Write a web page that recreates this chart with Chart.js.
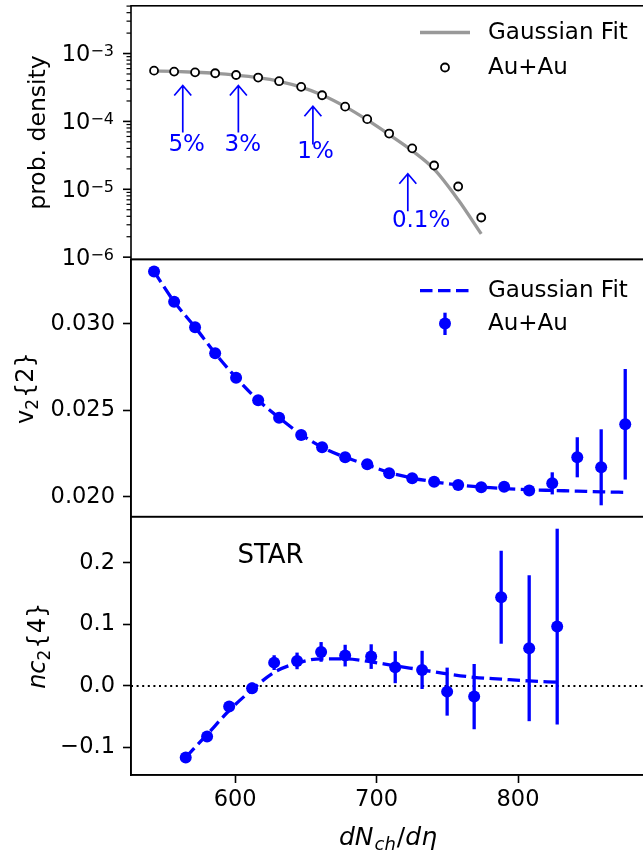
<!DOCTYPE html>
<html>
<head>
<meta charset="utf-8">
<script src="https://cdn.jsdelivr.net/npm/chart.js@4.4.1/dist/chart.umd.min.js"></script>
<style>
  body { margin: 0; background: #fff; width: 643px; height: 851px; overflow: hidden; position: relative; }
  canvas { position: absolute; left: 0; top: 0; }
</style>
</head>
<body>
<canvas id="c1" width="660" height="851"></canvas>
<canvas id="c2" width="660" height="851"></canvas>
<canvas id="c3" width="660" height="851"></canvas>
<script>
// dN/deta bins for the top two panels
const mult = [542.7, 556.9, 571.7, 585.9, 600.7, 616.3, 631.1, 646.7, 661.5, 677.8, 693.4,
              708.9, 725.2, 740.7, 757.7, 774.0, 790.2, 807.9, 824.2, 841.9, 858.8, 875.8];

// top panel: probability density (first 16 bins)
const probDensity = [5.6e-4, 5.42e-4, 5.28e-4, 5.12e-4, 4.83e-4, 4.43e-4, 3.91e-4, 3.23e-4,
                     2.43e-4, 1.65e-4, 1.08e-4, 6.62e-5, 4.01e-5, 2.24e-5, 1.10e-5, 3.84e-6];
const probFit = [5.55e-4, 5.45e-4, 5.3e-4, 5.1e-4, 4.8e-4, 4.4e-4, 3.9e-4, 3.2e-4,
                 2.45e-4, 1.65e-4, 1.05e-4, 6.4e-5, 3.7e-5, 1.98e-5, 7.0e-6, 2.2e-6];

// centrality arrows
const pctLabels = ['5%', '3%', '1%', '0.1%'];
const pctArrowX = [563.0, 602.3, 655.0, 722.1];
const pctArrowTail = [6.86e-5, 6.86e-5, 4.58e-5, 4.73e-6];
const pctArrowHead = [3.38e-4, 3.38e-4, 1.67e-4, 1.69e-5];
const pctTextX = [565.8, 605.4, 656.9, 731.5];
const pctTextY = [4.43e-5, 4.43e-5, 3.5e-5, 3.41e-6];

// middle panel: v2{2}
const v2 = [0.03303, 0.03129, 0.02981, 0.02830, 0.02689, 0.02558, 0.02457, 0.02357, 0.02286,
            0.02228, 0.02187, 0.02135, 0.02106, 0.02086, 0.02067, 0.02054, 0.02057, 0.02036,
            0.02077, 0.02228, 0.02170, 0.02419];
const v2Err = [0.00008, 0.00008, 0.00008, 0.00008, 0.00008, 0.00008, 0.00008, 0.00008, 0.00008,
               0.00008, 0.0001, 0.0001, 0.0001, 0.0001, 0.00012, 0.00015, 0.0002, 0.00025,
               0.00064, 0.00116, 0.0022, 0.0032];
const v2Fit = [0.03303, 0.03129, 0.02981, 0.02830, 0.02689, 0.02558, 0.02457, 0.02360, 0.02286,
               0.02228, 0.02185, 0.02140, 0.02108, 0.02086, 0.02068, 0.02055, 0.02047, 0.02040,
               0.02036, 0.02032, 0.02028, 0.02025];

// bottom panel: nc2{4}
const ncX = [565.1, 580.2, 595.8, 612.0, 627.6, 643.8, 660.8, 677.8, 696.2, 713.2, 732.2,
             749.9, 769.0, 788.1, 807.9, 827.7];
const nc = [-0.1164, -0.0823, -0.0336, -0.0037, 0.0378, 0.0406, 0.0552, 0.0492, 0.0476, 0.0304,
            0.0260, -0.0093, -0.0174, 0.1440, 0.0612, 0.0963];
const ncErr = [0.005, 0.005, 0.006, 0.009, 0.012, 0.0135, 0.016, 0.0176, 0.020, 0.026, 0.031,
               0.039, 0.053, 0.0755, 0.1185, 0.159];
const ncFit = [-0.116, -0.079, -0.040, -0.006, 0.022, 0.037, 0.044, 0.044, 0.039, 0.0325, 0.026,
               0.0195, 0.014, 0.011, 0.008, 0.006];

const xTicks = [600, 700, 800];

const X_MIN = 526.4, X_MAX = 891.9;
const FONT = '"DejaVu Sans", sans-serif';
const BLUE = '#0000ff';
const W = 660, H = 851;
const TICK_PX = 22.5, TEXT_PX = 23;

function pts(xs, ys) {
  return ys.map((y, i) => ({ x: xs[i], y: y }));
}

// draw a list of text pieces (mathtext-ish) centred at origin, after transform
function drawPieces(ctx, pieces, cx, cy, rotate) {
  ctx.save();
  ctx.translate(cx, cy);
  if (rotate) ctx.rotate(-Math.PI / 2);
  let total = 0;
  pieces.forEach(p => { ctx.font = p.f; total += ctx.measureText(p.t).width + (p.gap || 0); });
  let x = -total / 2;
  ctx.fillStyle = '#000';
  ctx.textBaseline = 'alphabetic';
  ctx.textAlign = 'left';
  pieces.forEach(p => {
    ctx.font = p.f;
    ctx.fillText(p.t, x, p.dy || 0);
    x += ctx.measureText(p.t).width + (p.gap || 0);
  });
  ctx.restore();
}

const frame = {
  id: 'frame',
  afterDraw(c) {
    const a = c.chartArea, ctx = c.ctx;
    ctx.save();
    ctx.strokeStyle = '#000';
    ctx.lineWidth = 1.6;
    ctx.strokeRect(a.left, a.top, a.right - a.left, a.bottom - a.top);
    ctx.restore();
  }
};

function errBars(xs, ys, es) {
  return {
    id: 'errbars',
    beforeDatasetsDraw(c) {
      const sx = c.scales.x, sy = c.scales.y, ctx = c.ctx;
      ctx.save();
      ctx.strokeStyle = BLUE;
      ctx.lineWidth = 3.3;
      xs.forEach((v, i) => {
        const px = sx.getPixelForValue(v);
        ctx.beginPath();
        ctx.moveTo(px, sy.getPixelForValue(ys[i] - es[i]));
        ctx.lineTo(px, sy.getPixelForValue(ys[i] + es[i]));
        ctx.stroke();
      });
      ctx.restore();
    }
  };
}

function yTitle(pieces, x) {
  return {
    id: 'ytitle',
    afterDraw(c) {
      const a = c.chartArea;
      drawPieces(c.ctx, pieces, x, (a.top + a.bottom) / 2, true);
    }
  };
}

function baseOptions(pad) {
  return {
    responsive: false,
    animation: false,
    devicePixelRatio: 1,
    layout: { padding: pad },
    plugins: { legend: { display: false }, tooltip: { enabled: false } },
    elements: { line: { tension: 0 } }
  };
}

// ---------- Panel 1: probability density ----------
const logAxis = {
  id: 'logaxis',
  afterDraw(c) {
    const ctx = c.ctx, sy = c.scales.y, left = c.chartArea.left;
    ctx.save();
    ctx.strokeStyle = '#000';
    ctx.fillStyle = '#000';
    for (let e = -7; e <= -2; e++) {
      for (let m = 1; m < 10; m++) {
        const v = m * Math.pow(10, e);
        if (v < sy.min || v > sy.max) continue;
        const py = sy.getPixelForValue(v);
        const major = m === 1;
        ctx.lineWidth = major ? 1.6 : 1.2;
        ctx.beginPath();
        ctx.moveTo(left - (major ? 8 : 4.5), py);
        ctx.lineTo(left, py);
        ctx.stroke();
        if (major) {
          const sup = '\u2212' + Math.abs(e);
          ctx.font = TICK_PX + 'px ' + FONT;
          const w1 = ctx.measureText('10').width;
          ctx.font = '16px ' + FONT;
          const w2 = ctx.measureText(sup).width;
          const x0 = left - 17 - w1 - w2;
          ctx.font = TICK_PX + 'px ' + FONT;
          ctx.textBaseline = 'alphabetic';
          ctx.textAlign = 'left';
          ctx.fillText('10', x0, py + 7.8);
          ctx.font = '16px ' + FONT;
          ctx.fillText(sup, x0 + w1, py + 2.5);
        }
      }
    }
    ctx.restore();
  }
};

const arrows = {
  id: 'arrows',
  afterDatasetsDraw(c) {
    const ctx = c.ctx, sx = c.scales.x, sy = c.scales.y;
    ctx.save();
    ctx.strokeStyle = BLUE;
    ctx.fillStyle = BLUE;
    ctx.lineWidth = 1.7;
    pctLabels.forEach((lab, i) => {
      const px = sx.getPixelForValue(pctArrowX[i]);
      const yt = sy.getPixelForValue(pctArrowTail[i]);
      const yh = sy.getPixelForValue(pctArrowHead[i]);
      ctx.beginPath();
      ctx.moveTo(px, yt);
      ctx.lineTo(px, yh);
      ctx.moveTo(px - 8.5, yh + 10);
      ctx.lineTo(px, yh);
      ctx.lineTo(px + 8.5, yh + 10);
      ctx.stroke();
      ctx.font = TEXT_PX + 'px ' + FONT;
      ctx.textAlign = 'center';
      ctx.textBaseline = 'middle';
      ctx.fillText(lab, sx.getPixelForValue(pctTextX[i]), sy.getPixelForValue(pctTextY[i]));
    });
    ctx.restore();
  }
};

const legend1 = {
  id: 'legend1',
  afterDraw(c) {
    const ctx = c.ctx;
    ctx.save();
    ctx.strokeStyle = '#999999';
    ctx.lineWidth = 3.3;
    ctx.beginPath();
    ctx.moveTo(420, 32.5);
    ctx.lineTo(470, 32.5);
    ctx.stroke();
    ctx.beginPath();
    ctx.arc(445, 67.5, 4, 0, Math.PI * 2);
    ctx.fillStyle = '#fff';
    ctx.fill();
    ctx.strokeStyle = '#000';
    ctx.lineWidth = 1.8;
    ctx.stroke();
    ctx.fillStyle = '#000';
    ctx.font = TEXT_PX + 'px ' + FONT;
    ctx.textAlign = 'left';
    ctx.textBaseline = 'middle';
    ctx.fillText('Gaussian Fit', 488, 33);
    ctx.fillText('Au+Au', 488, 68);
    ctx.restore();
  }
};

new Chart(document.getElementById('c1'), {
  type: 'scatter',
  data: {
    datasets: [
      {
        label: 'Au+Au',
        data: pts(mult, probDensity),
        pointRadius: 4,
        pointBackgroundColor: '#fff',
        pointBorderColor: '#000',
        pointBorderWidth: 1.8,
        order: 0
      },
      {
        label: 'Gaussian Fit',
        data: pts(mult, probFit),
        showLine: true,
        borderColor: '#999999',
        borderWidth: 3.3,
        pointRadius: 0,
        cubicInterpolationMode: 'monotone',
        order: 1
      }
    ]
  },
  options: Object.assign(baseOptions({ left: 0, right: W - 648, top: 2.7, bottom: H - 259.3 }), {
    scales: {
      x: { type: 'linear', min: X_MIN, max: X_MAX, display: false },
      y: {
        type: 'logarithmic', min: 9.3e-7, max: 5.05e-3,
        ticks: { display: false },
        grid: { display: false },
        border: { display: false },
        afterFit: s => { s.width = 131; }
      }
    }
  }),
  plugins: [frame, logAxis, arrows, legend1,
    yTitle([{ t: 'prob. density', f: '23.5px ' + FONT }], 45)]
});

// ---------- Panel 2: v2{2} ----------
const legend2 = {
  id: 'legend2',
  afterDraw(c) {
    const ctx = c.ctx;
    ctx.save();
    ctx.strokeStyle = BLUE;
    ctx.lineWidth = 3.3;
    ctx.setLineDash([12.5, 5.5]);
    ctx.beginPath();
    ctx.moveTo(420, 290.7);
    ctx.lineTo(470, 290.7);
    ctx.stroke();
    ctx.setLineDash([]);
    ctx.beginPath();
    ctx.moveTo(445, 312.7);
    ctx.lineTo(445, 335);
    ctx.stroke();
    ctx.fillStyle = BLUE;
    ctx.beginPath();
    ctx.arc(445, 323.5, 6, 0, Math.PI * 2);
    ctx.fill();
    ctx.fillStyle = '#000';
    ctx.font = TEXT_PX + 'px ' + FONT;
    ctx.textAlign = 'left';
    ctx.textBaseline = 'middle';
    ctx.fillText('Gaussian Fit', 488, 291.5);
    ctx.fillText('Au+Au', 488, 324.5);
    ctx.restore();
  }
};

const yAxisStyle = {
  grid: { drawOnChartArea: false, tickLength: 8, tickColor: '#000', tickWidth: 1.6 },
  border: { display: true, color: '#000', width: 1.6 }
};

new Chart(document.getElementById('c2'), {
  type: 'scatter',
  data: {
    datasets: [
      {
        label: 'Au+Au',
        data: pts(mult, v2),
        pointRadius: 6,
        pointBackgroundColor: BLUE,
        pointBorderWidth: 0,
        order: 1
      },
      {
        label: 'Gaussian Fit',
        data: pts(mult, v2Fit),
        showLine: true,
        borderColor: BLUE,
        borderWidth: 3.3,
        borderDash: [12.5, 5.5],
        pointRadius: 0,
        cubicInterpolationMode: 'monotone',
        order: 0
      }
    ]
  },
  options: Object.assign(baseOptions({ left: 0, right: W - 648, top: 259.5, bottom: H - 516.7 }), {
    scales: {
      x: { type: 'linear', min: X_MIN, max: X_MAX, display: false },
      y: Object.assign({
        type: 'linear', min: 0.01884, max: 0.03373,
        ticks: {
          stepSize: 0.005, includeBounds: false, color: '#000', padding: 8,
          font: { family: FONT, size: TICK_PX },
          callback: v => v.toFixed(3)
        },
        afterFit: s => { s.width = 131; }
      }, yAxisStyle)
    }
  }),
  plugins: [frame, errBars(mult, v2, v2Err), legend2,
    yTitle([
      { t: 'v', f: '24px ' + FONT },
      { t: '2', f: '17px ' + FONT, dy: 5, gap: 1 },
      { t: '{2}', f: '24px ' + FONT }
    ], 33)]
});

// ---------- Panel 3: nc2{4} ----------
const zeroLine = {
  id: 'zeroline',
  beforeDatasetsDraw(c) {
    const ctx = c.ctx, a = c.chartArea, py = c.scales.y.getPixelForValue(0);
    ctx.save();
    ctx.strokeStyle = '#000';
    ctx.lineWidth = 2;
    ctx.setLineDash([2, 3.6]);
    ctx.beginPath();
    ctx.moveTo(a.left, py);
    ctx.lineTo(a.right, py);
    ctx.stroke();
    ctx.restore();
  }
};

const panel3Text = {
  id: 'panel3text',
  afterDraw(c) {
    const ctx = c.ctx;
    ctx.save();
    ctx.fillStyle = '#000';
    ctx.font = '26px ' + FONT;
    ctx.textAlign = 'center';
    ctx.textBaseline = 'alphabetic';
    ctx.fillText('STAR', 270.5, 563.3);
    ctx.restore();
    const it = 'italic 25px ' + FONT, itS = 'italic 18px ' + FONT;
    drawPieces(ctx, [
      { t: 'dN', f: it, gap: 1 },
      { t: 'ch', f: itS, dy: 4.5, gap: 1 },
      { t: '/', f: '25px ' + FONT },
      { t: 'd\u03b7', f: it }
    ], 388, 845, false);
  }
};

new Chart(document.getElementById('c3'), {
  type: 'scatter',
  data: {
    datasets: [
      {
        label: 'Au+Au',
        data: pts(ncX, nc),
        pointRadius: 6,
        pointBackgroundColor: BLUE,
        pointBorderWidth: 0,
        order: 1
      },
      {
        label: 'Gaussian Fit',
        data: pts(ncX, ncFit),
        showLine: true,
        borderColor: BLUE,
        borderWidth: 3.3,
        borderDash: [12.5, 5.5],
        pointRadius: 0,
        cubicInterpolationMode: 'monotone',
        order: 0
      }
    ]
  },
  options: Object.assign(baseOptions({ left: 0, right: W - 648, top: 516.7, bottom: 0 }), {
    scales: {
      x: {
        type: 'linear', min: X_MIN, max: X_MAX,
        afterBuildTicks: s => { s.ticks = xTicks.map(v => ({ value: v })); },
        ticks: {
          color: '#000', padding: 4,
          font: { family: FONT, size: TICK_PX },
          callback: v => String(v)
        },
        grid: { drawOnChartArea: false, tickLength: 8, tickColor: '#000', tickWidth: 1.6 },
        border: { display: true, color: '#000', width: 1.6 },
        afterFit: s => { s.height = H - 775; }
      },
      y: Object.assign({
        type: 'linear', min: -0.1447, max: 0.2748,
        ticks: {
          stepSize: 0.1, includeBounds: false, color: '#000', padding: 8,
          font: { family: FONT, size: TICK_PX },
          callback: v => (Math.abs(v) < 1e-9 ? '0.0' : v.toFixed(1).replace('-', '\u2212'))
        },
        afterFit: s => { s.width = 131; }
      }, yAxisStyle)
    }
  }),
  plugins: [frame, zeroLine, errBars(ncX, nc, ncErr), panel3Text,
    yTitle([
      { t: 'nc', f: 'italic 24px ' + FONT },
      { t: '2', f: '17px ' + FONT, dy: 5, gap: 1 },
      { t: '{4}', f: '24px ' + FONT }
    ], 45)]
});
</script>
</body>
</html>
